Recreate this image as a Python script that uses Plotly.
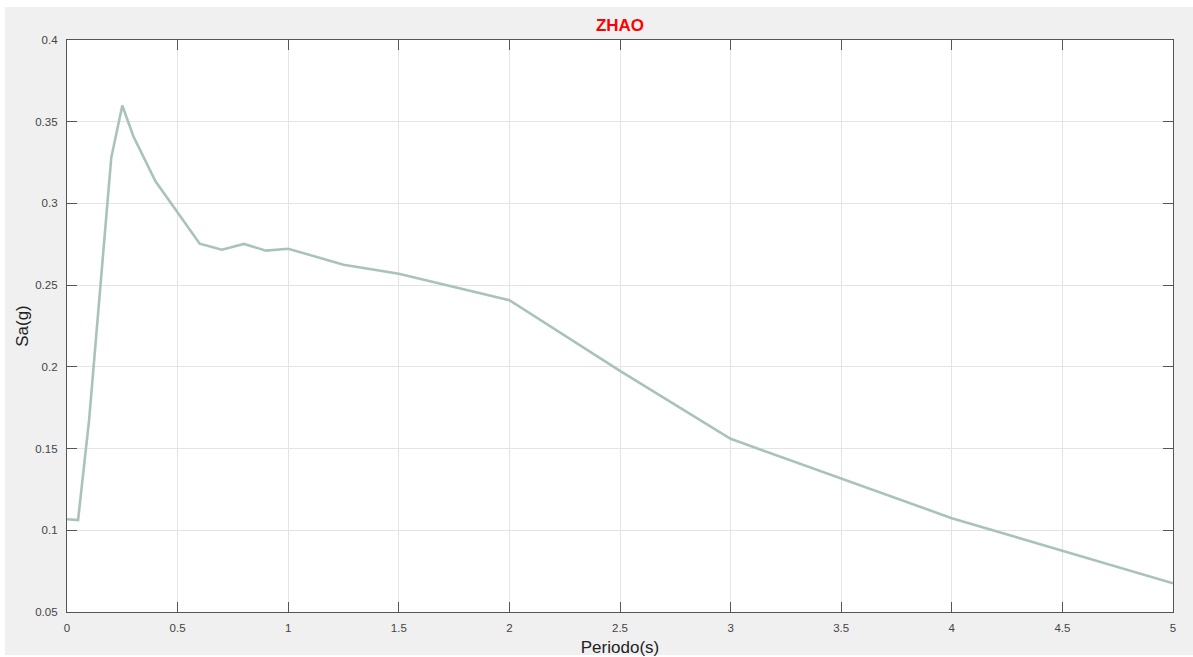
import plotly.graph_objects as go

periods = [0.0, 0.05, 0.1, 0.2, 0.25, 0.3, 0.4, 0.5, 0.6, 0.7, 0.8, 0.9, 1.0,
           1.25, 1.5, 2.0, 2.5, 3.0, 4.0, 5.0]
sa = [0.1068, 0.1062, 0.1676, 0.3279, 0.3599, 0.3411, 0.3135, 0.2942, 0.2754,
      0.2717, 0.2752, 0.2711, 0.2723, 0.2625, 0.2570, 0.2408, 0.1976, 0.1560,
      0.1074, 0.0676]

x_ticks = [0, 0.5, 1, 1.5, 2, 2.5, 3, 3.5, 4, 4.5, 5]
x_ticklabels = ["0", "0.5", "1", "1.5", "2", "2.5", "3", "3.5", "4", "4.5", "5"]
y_ticks = [0.05, 0.1, 0.15, 0.2, 0.25, 0.3, 0.35, 0.4]
y_ticklabels = ["0.05", "0.1", "0.15", "0.2", "0.25", "0.3", "0.35", "0.4"]

W, H = 1193, 657
ML, MR, MT, MB = 67, 20, 40, 45
PW, PH = W - ML - MR, H - MT - MB

def px(xp):
    return (xp - ML) / PW

def py(yp):
    return (H - MB - yp) / PH

fig = go.Figure()
fig.add_trace(go.Scatter(x=periods, y=sa, mode="lines",
                         line=dict(color="#a9c3ba", width=2.6),
                         showlegend=False, hoverinfo="x+y"))

axis_common = dict(
    showline=True, linecolor="#555555", linewidth=1.3, mirror="ticks",
    ticks="inside", ticklen=10, tickwidth=1.3, tickcolor="#555555",
    showgrid=True, gridcolor="#e4e4e4", gridwidth=1, zeroline=False,
    tickfont=dict(family="Liberation Sans, Arial, sans-serif", size=11.5, color="#444444"),
    automargin=False,
)

fig.update_xaxes(range=[0, 5], tickvals=x_ticks, ticktext=x_ticklabels,
                 ticklabelstandoff=5,
                 title=dict(text="Periodo(s)", standoff=10,
                            font=dict(family="Liberation Sans, Arial, sans-serif", size=17, color="#222222")),
                 **axis_common)
fig.update_yaxes(range=[0.05, 0.4], tickvals=y_ticks, ticktext=y_ticklabels,
                 ticklabelstandoff=6,
                 title=dict(text="Sa(g)", standoff=2,
                            font=dict(family="Liberation Sans, Arial, sans-serif", size=17, color="#222222")),
                 **axis_common)

# white outer strips (top/left/bottom) around the grey figure background
shapes = [
    dict(type="rect", xref="paper", yref="paper", x0=px(0), x1=px(W), y0=py(0), y1=py(7),
         fillcolor="white", line=dict(width=0), layer="below"),
    dict(type="rect", xref="paper", yref="paper", x0=px(0), x1=px(5), y0=py(H), y1=py(0),
         fillcolor="white", line=dict(width=0), layer="below"),
    dict(type="rect", xref="paper", yref="paper", x0=px(0), x1=px(W), y0=py(H), y1=py(655),
         fillcolor="white", line=dict(width=0), layer="below"),
]

fig.update_layout(
    width=W, height=H,
    margin=dict(l=ML, r=MR, t=MT, b=MB),
    paper_bgcolor="#f0f0f0", plot_bgcolor="white",
    title=dict(text="<b>ZHAO</b>", x=620 / W, xanchor="center", y=1 - 25 / H, yanchor="middle",
               font=dict(family="Liberation Sans, Arial, sans-serif", size=17, color="#ff0000")),
    shapes=shapes,
)

fig.write_html("out.html")
